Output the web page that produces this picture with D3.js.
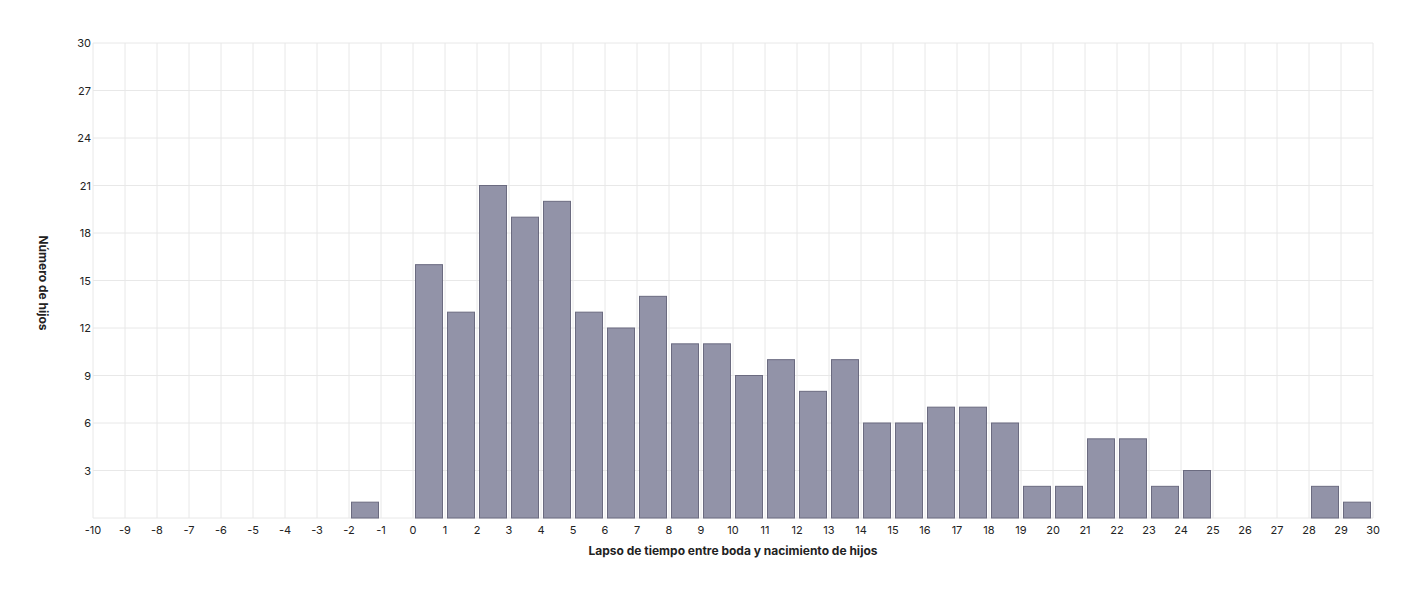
<!DOCTYPE html><html><head><meta charset="utf-8"><script src="https://cdn.jsdelivr.net/npm/d3@7"></script>
<style>body{margin:0;background:#fff;font-family:Inter,"Noto Sans",sans-serif}</style></head><body><svg id="c" width="1414" height="594"></svg><script>
const starts=[-2,0,1,2,3,4,5,6,7,8,9,10,11,12,13,14,15,16,17,18,19,20,21,22,23,24,28,29];
const values=[1,16,13,21,19,20,13,12,14,11,11,9,10,8,10,6,6,7,7,6,2,2,5,5,2,3,2,1];
const xTicks=d3.range(-10,31);
const yTicks=[3,6,9,12,15,18,21,24,27,30];
const svg=d3.select("#c");
const x=d3.scaleLinear().domain([-10,30]).range([93,1373]);
const y=d3.scaleLinear().domain([0,30]).range([518,43]);
const g=svg.append("g");
g.selectAll(".vx").data(xTicks).enter().append("line").attr("x1",d=>x(d)).attr("x2",d=>x(d)).attr("y1",y(30)).attr("y2",y(0)).attr("stroke","#e8e8e8");
g.selectAll(".hy").data(yTicks).enter().append("line").attr("x1",x(-10)).attr("x2",x(30)).attr("y1",d=>y(d)).attr("y2",d=>y(d)).attr("stroke","#e8e8e8");
g.append("line").attr("x1",x(-10)).attr("x2",x(30)).attr("y1",y(0)).attr("y2",y(0)).attr("stroke","#e8e8e8");
svg.selectAll(".bar").data(starts).enter().append("rect")
 .attr("x",d=>x(d)+2.5).attr("width",d=>x(d+1)-x(d)-5)
 .attr("y",(d,i)=>y(values[i])).attr("height",(d,i)=>y(0)-y(values[i]))
 .attr("fill","#9293a8").attr("stroke","#6b6b80").attr("stroke-width",1);
svg.selectAll(".xt").data(xTicks).enter().append("text").attr("x",d=>x(d)).attr("y",534).attr("text-anchor","middle").attr("font-size",11).attr("fill","#222").text(d=>d);
svg.selectAll(".yt").data(yTicks).enter().append("text").attr("x",91).attr("y",d=>y(d)+4).attr("text-anchor","end").attr("font-size",11).attr("fill","#222").text(d=>d);
svg.append("text").attr("x",733).attr("y",555).attr("text-anchor","middle").attr("font-size",12).attr("font-weight","bold").attr("fill","#222").text("Lapso de tiempo entre boda y nacimiento de hijos");
svg.append("text").attr("transform","translate(39,283) rotate(90)").attr("text-anchor","middle").attr("font-size",12).attr("font-weight","bold").attr("fill","#222").text("Número de hijos");
</script></body></html>
